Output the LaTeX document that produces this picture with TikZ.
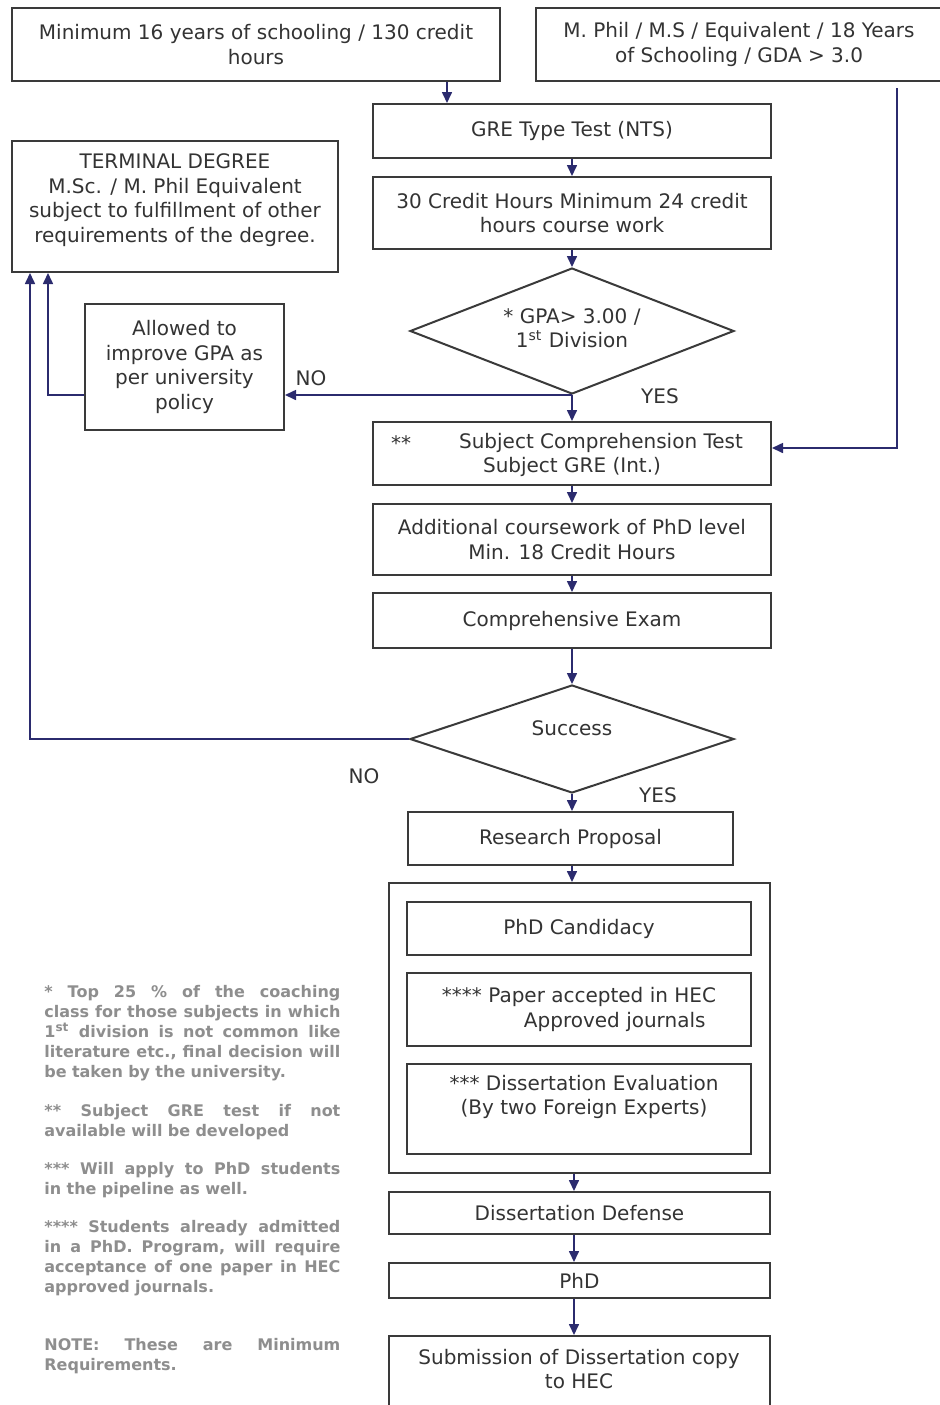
\documentclass[tikz,border=0pt]{standalone}
\usepackage{fontspec}
\setmainfont{DejaVu Sans}
\usetikzlibrary{shapes.geometric,arrows.meta}
\definecolor{txt}{HTML}{333333}
\definecolor{boxc}{HTML}{3A3A3A}
\definecolor{linec}{HTML}{2B2B6E}
\definecolor{notec}{HTML}{8E8E8E}
\newcommand{\jline}[1]{\leavevmode\hbox to 148pt{#1}}
\newcommand{\gp}{\hfill\ }
\begin{document}
\begin{tikzpicture}[x=0.5pt,y=-0.5pt,
 box/.style={draw=boxc,line width=1pt,inner sep=0pt,align=center,text=txt,font=\fontsize{10}{12.25}\selectfont},
 dia/.style={draw=boxc,line width=1pt,diamond,inner sep=0pt},
 lbl/.style={text=txt,font=\fontsize{10}{12.25}\selectfont,inner sep=0pt,align=center},
 arr/.style={draw=linec,line width=0.8pt,-{Triangle[length=5.5pt,width=5pt]}},
 note/.style={anchor=north west,inner sep=0pt,text=notec,text width=148pt,align=left,font=\fontsize{8}{10}\selectfont\bfseries}]
\path[use as bounding box,fill=white] (0,0) rectangle (939,1405);

% boxes
\node[box,minimum width=244pt,minimum height=36.5pt] (tl) at (256,44.5) {Minimum 16 years of schooling / 130 credit\\hours};
\node[box,minimum width=203pt,minimum height=36.5pt] (tr) at (739,44.5) {M. Phil / M.S / Equivalent / 18 Years\\of Schooling / GDA > 3.0};
\node[box,minimum width=199pt,minimum height=27pt] (gre) at (572,131) {GRE Type Test (NTS)};
\node[box,minimum width=199pt,minimum height=36pt] (cred) at (572,213) {30 Credit Hours Minimum 24 credit\\hours course work};
\node[dia,minimum width=162pt,minimum height=63pt] (d1) at (572,331) {};
\node[lbl] (d1t) at (572,328) {* GPA> 3.00 /\\1\textsuperscript{st} Division};
\node[box,minimum width=163pt,minimum height=65.5pt] (term) at (175,206.5) {};
\node[lbl] (termt) at (175,200) {TERMINAL DEGREE\\M.Sc. / M. Phil Equivalent\\subject to fulfillment of other\\requirements of the degree.};
\node[box,minimum width=99.5pt,minimum height=63pt] (alw) at (184.5,367) {Allowed to\\improve GPA as\\per university\\policy};
\node[box,minimum width=199pt,minimum height=31.5pt] (sct) at (572,453.5) {};
\node[lbl] (scta) at (401,443) {**};
\node[lbl] (sct1) at (601,443) {Subject Comprehension Test};
\node[lbl] (sct2) at (572,467) {Subject GRE (Int.)};
\node[box,minimum width=199pt,minimum height=35.5pt] (add) at (572,539.5) {Additional coursework of PhD level\\Min. 18 Credit Hours};
\node[box,minimum width=199pt,minimum height=27.5pt] (comp) at (572,620.5) {Comprehensive Exam};
\node[dia,minimum width=162pt,minimum height=54pt] (d2) at (572,739) {};
\node[lbl] (d2t) at (572,728) {Success};
\node[box,minimum width=162.5pt,minimum height=26.5pt] (rp) at (570.5,838.5) {Research Proposal};
\node[box,minimum width=190.5pt,minimum height=145pt] (cont) at (579.5,1028) {};
\node[box,minimum width=172pt,minimum height=26.5pt] (cand) at (579,928.5) {PhD Candidacy};
\node[box,align=left,minimum width=172pt,minimum height=36.5pt] (paper) at (579,1009.5) {**** Paper accepted in HEC\\\hspace*{41pt}Approved journals};
\node[box,minimum width=172pt,minimum height=45pt] (eval) at (579,1109) {};
\node[lbl] (evalt) at (584,1097) {*** Dissertation Evaluation\\(By two Foreign Experts)};
\node[box,minimum width=190.5pt,minimum height=21pt] (def) at (579.5,1213) {Dissertation Defense};
\node[box,minimum width=190.5pt,minimum height=17.5pt] (phd) at (579.5,1280.5) {PhD};
\node[box,minimum width=190.5pt,minimum height=44pt] (sub) at (579.5,1380) {};
\node[lbl] (subt) at (579,1369) {Submission of Dissertation copy\\to HEC};

% labels
\node[lbl] (no1) at (311,378) {NO};
\node[lbl] (yes1) at (660,396) {YES};
\node[lbl] (no2) at (364,776) {NO};
\node[lbl] (yes2) at (658,795) {YES};

% coordinates
\coordinate (c447) at (447,0);
\coordinate (c572) at (572,0);
\coordinate (c574) at (574,0);
\coordinate (c48) at (48,0);
\coordinate (c30) at (30,0);
\coordinate (trs) at (897,88);
\coordinate (c448) at (0,448);

% connectors
\draw[arr] (tl.south -| c447) -- (gre.north -| c447);
\draw[arr] (gre) -- (cred);
\draw[arr] (cred) -- (d1);
\draw[arr] (d1.south) -- (sct.north);
\draw[arr] (d1.south) -- (d1.south -| alw.east);
\draw[arr] (d1.south -| alw.west) -- (d1.south -| c48) -- (term.south -| c48);
\draw[arr] (trs) -- (trs |- c448) -- (sct.east |- c448);
\draw[arr] (sct) -- (add);
\draw[arr] (add) -- (comp);
\draw[arr] (comp) -- (d2);
\draw[arr] (d2.south) -- (d2.south |- rp.north);
\draw[arr] (d2.west) -- (d2.west -| c30) -- (term.south -| c30);
\draw[arr] (rp.south -| c572) -- (cont.north -| c572);
\draw[arr] (cont.south -| c574) -- (def.north -| c574);
\draw[arr] (def.south -| c574) -- (phd.north -| c574);
\draw[arr] (phd.south -| c574) -- (sub.north -| c574);

% notes
\node[note] (n1) at (44,985) {\jline{*\gp Top\gp 25\gp \%\gp of\gp the\gp coaching}\\
\jline{class\gp for\gp those\gp subjects\gp in\gp which}\\
\jline{1\textsuperscript{st}\gp division\gp is\gp not\gp common\gp like}\\
\jline{literature\gp etc.,\gp final\gp decision\gp will}\\
be taken by the university.};
\node[note] (n2) at (44,1104) {\jline{**\gp Subject\gp GRE\gp test\gp if\gp not}\\
available will be developed};
\node[note] (n3) at (44,1162) {\jline{***\gp Will\gp apply\gp to\gp PhD\gp students}\\
in the pipeline as well.};
\node[note] (n4) at (44,1220) {\jline{****\gp Students\gp already\gp admitted}\\
\jline{in\gp a\gp PhD.\gp Program,\gp will\gp require}\\
\jline{acceptance\gp of\gp one\gp paper\gp in\gp HEC}\\
approved journals.};
\node[note] (n5) at (44,1338) {\jline{NOTE:\gp These\gp are\gp Minimum}\\
Requirements.};
\end{tikzpicture}
\end{document}
